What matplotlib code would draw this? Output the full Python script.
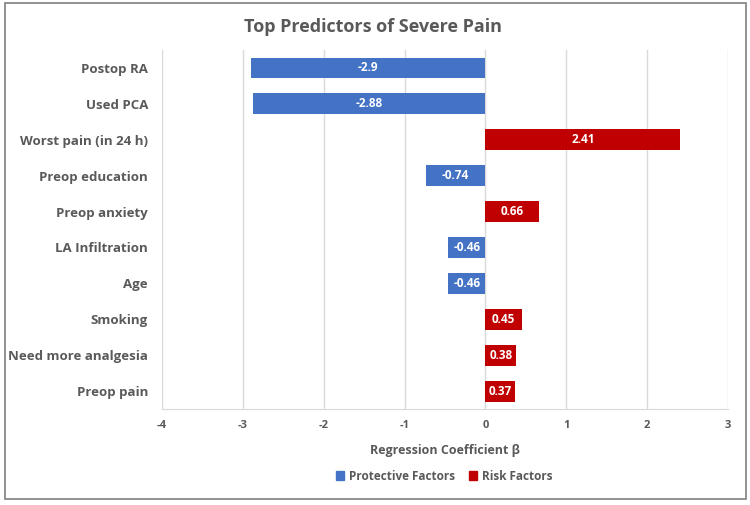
import matplotlib
matplotlib.use("Agg")
import matplotlib.pyplot as plt
from matplotlib.patches import Rectangle, Patch

categories = ["Postop RA", "Used PCA", "Worst pain (in 24 h)", "Preop education",
              "Preop anxiety", "LA Infiltration", "Age", "Smoking",
              "Need more analgesia", "Preop pain"]
values = [-2.9, -2.88, 2.41, -0.74, 0.66, -0.46, -0.46, 0.45, 0.38, 0.37]
xticks = [-4, -3, -2, -1, 0, 1, 2, 3]

blue = "#4472C4"
red = "#C00000"
gray = "#595959"

plt.rcParams['font.family'] = ['Open Sans', 'DejaVu Sans']

fig = plt.figure(figsize=(7.5, 5.05), dpi=100)
fig.patches.append(Rectangle((0.006, 0.012), 0.988, 0.982, transform=fig.transFigure,
                             fill=False, edgecolor="#7f7f7f", linewidth=1.2))
ax = fig.add_axes([0.216, 0.19, 0.7547, 0.711])

ypos = list(range(len(categories)))
for y, v in zip(ypos, values):
    c = blue if v < 0 else red
    ax.barh(y, v, height=0.58, color=c, zorder=3)
    ax.text(v / 2, y, f"{v:g}", ha="center", va="center", color="white",
            fontsize=8.5, fontweight="bold", zorder=4)

ax.set_ylim(len(categories) - 0.5, -0.5)
ax.set_xlim(-4, 3)
ax.set_xticks(xticks)
ax.set_xticklabels([str(t) for t in xticks], color=gray, fontsize=8, fontweight="bold")
ax.set_yticks(ypos)
ax.set_yticklabels(categories, color=gray, fontsize=9.5, fontweight="bold")
ax.tick_params(axis="both", length=0)
ax.tick_params(axis="y", pad=10)
ax.tick_params(axis="x", pad=8)
ax.grid(axis="x", color="#d9d9d9", linewidth=1, zorder=0)
for s in ["top", "right", "left"]:
    ax.spines[s].set_visible(False)
ax.spines["bottom"].set_color("#d9d9d9")

ax.set_xlabel("Regression Coefficient β", color=gray, fontsize=9, fontweight="bold", labelpad=9)
fig.suptitle("Top Predictors of Severe Pain", x=0.497, y=0.965, color=gray,
             fontsize=13, fontweight="bold")

handles = [Patch(color=blue, label="Protective Factors"), Patch(color=red, label="Risk Factors")]
leg = fig.legend(handles=handles, loc="center", bbox_to_anchor=(0.592, 0.057), ncol=2,
                 frameon=False, fontsize=8.5, handlelength=0.7, handleheight=0.7,
                 handletextpad=0.4, columnspacing=1.2)
for t in leg.get_texts():
    t.set_color(gray)
    t.set_fontweight("bold")

fig.savefig("out.png", dpi=100)
